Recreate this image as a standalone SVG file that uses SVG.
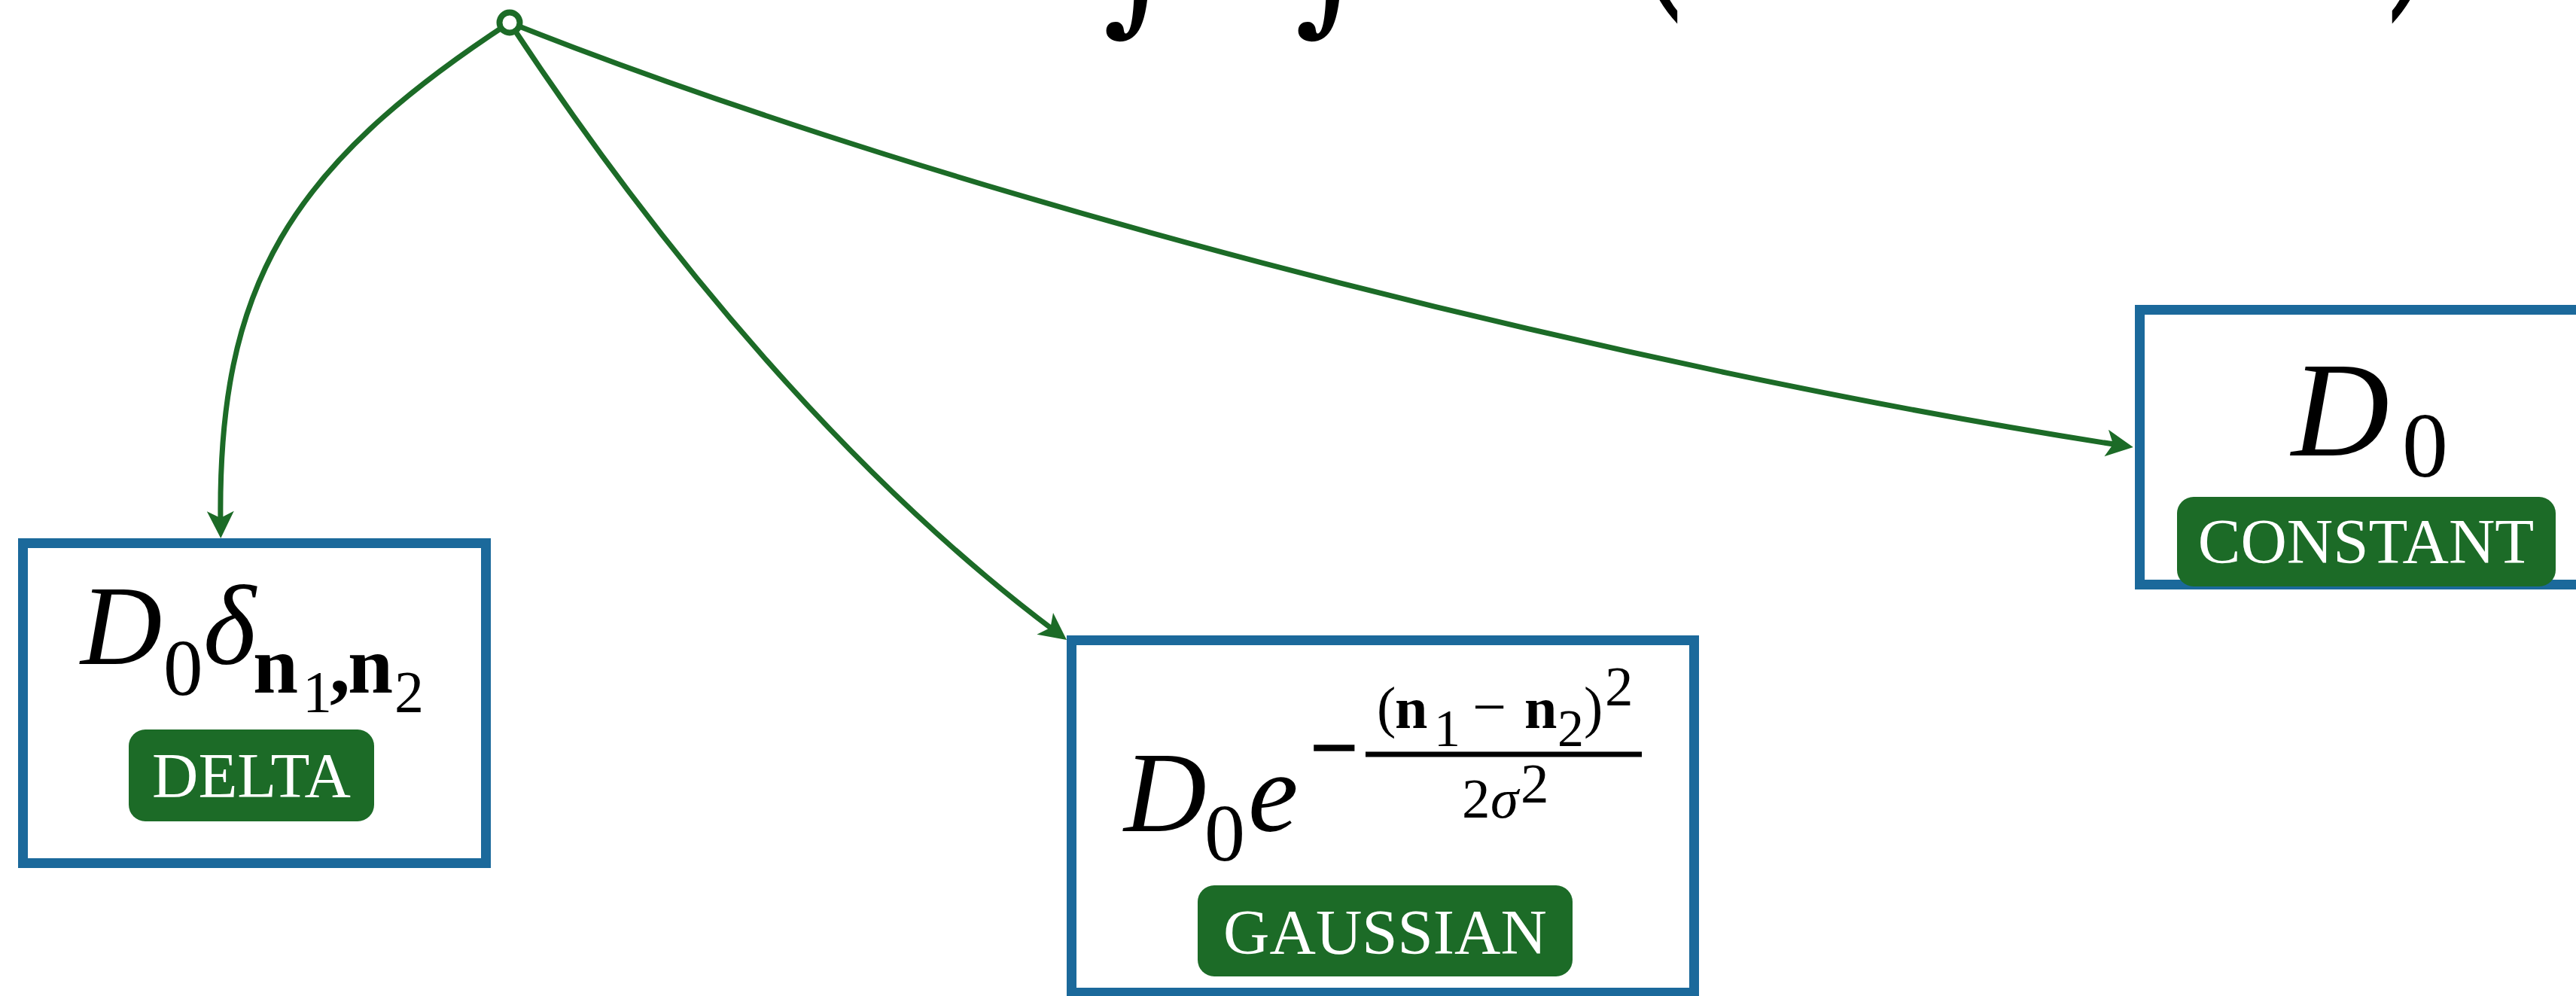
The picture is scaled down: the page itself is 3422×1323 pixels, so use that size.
<svg xmlns="http://www.w3.org/2000/svg" width="3422" height="1323" viewBox="0 0 3422 1323">
<style>
.box{fill:#ffffff;stroke:#1b699b;stroke-width:13}
.badge{fill:#1c6b27}
.badgetxt{font-family:"Liberation Serif",serif;font-size:85px;fill:#ffffff;text-anchor:middle}
.m{font-family:"Liberation Serif",serif;fill:#000000}
.it{font-style:italic}
.bf{font-weight:bold}
.conn{fill:none;stroke:#1c6b27;stroke-width:7}
.top{font-family:"DejaVu Serif",serif;fill:#000000}
</style>
<defs>
<marker id="arr" markerUnits="userSpaceOnUse" viewBox="-40 -20 42 40" refX="-20" refY="0" markerWidth="42" markerHeight="40" orient="auto">
<path d="M0,0 L-36,-18 L-27,0 L-36,18 Z" fill="#1c6b27"/>
</marker>
</defs>
<rect width="3422" height="1323" fill="#ffffff"/>
<g id="formula-top">
<text class="top" font-size="200" x="1465" y="19">∫</text>
<text class="top" font-size="200" x="1720" y="19">∫</text>
<text class="m" font-size="420" x="0" y="-58" transform="translate(2165,0) scale(0.5,1)">(</text>
<text class="m" font-size="420" x="0" y="-58" transform="translate(3171,0) scale(0.5,1)">)</text>
</g>
<g id="connectors">
<path class="conn" d="M677,30 C383,222 289,380 293,695" marker-end="url(#arr)"/>
<path class="conn" d="M677,30 C886,347 1137,640 1401,838" marker-end="url(#arr)"/>
<path class="conn" d="M677,30 C1282,270 2172,492 2814,591" marker-end="url(#arr)"/>
</g>
<g id="root">
<circle cx="677" cy="30" r="13.5" fill="#ffffff" stroke="#1c6b27" stroke-width="8"/>
</g>
<g id="delta">
<rect class="box" x="30.5" y="721.5" width="615" height="425"/>
<text class="m" y="882"><tspan class="it" x="107" font-size="150">D</tspan><tspan x="217" y="923" font-size="105">0</tspan><tspan class="it" x="270" y="882" font-size="150">δ</tspan><tspan class="bf" x="336" y="920" font-size="108">n</tspan><tspan x="402" y="945" font-size="78">1</tspan><tspan class="bf" x="438" y="920" font-size="108">,</tspan><tspan class="bf" x="462" y="920" font-size="108">n</tspan><tspan x="524" y="945" font-size="78">2</tspan></text>
<rect class="badge" x="171" y="969" width="326" height="122" rx="22"/>
<text class="badgetxt" x="334" y="1059">DELTA</text>
</g>
<g id="gaussian">
<rect class="box" x="1423.5" y="850.5" width="827" height="468"/>
<text class="m" y="1104"><tspan class="it" x="1493" font-size="152">D</tspan><tspan x="1600" y="1143" font-size="108">0</tspan><tspan class="it" x="1658" y="1104" font-size="150">e</tspan></text>
<text class="m" x="1772" y="1030" font-size="110" text-anchor="middle" stroke="#000" stroke-width="3">−</text>
<line x1="1814" y1="1002" x2="2181" y2="1002" stroke="#000" stroke-width="7"/>
<text class="m" y="965"><tspan x="1829" font-size="76">(</tspan><tspan class="bf" x="1853" y="967" font-size="78">n</tspan><tspan x="1905" y="991" font-size="70">1</tspan><tspan x="1956" y="966" font-size="80">−</tspan><tspan class="bf" x="2025" y="967" font-size="78">n</tspan><tspan x="2069" y="991" font-size="70">2</tspan><tspan x="2104" y="965" font-size="76">)</tspan><tspan x="2132" y="937" font-size="75">2</tspan></text>
<text class="m" y="1086"><tspan x="1942" font-size="75">2</tspan><tspan class="it" x="1980" font-size="75">σ</tspan><tspan x="2020" y="1066" font-size="75">2</tspan></text>
<rect class="badge" x="1591" y="1176" width="498" height="121" rx="22"/>
<text class="badgetxt" x="1840" y="1267">GAUSSIAN</text>
</g>
<g id="constant">
<rect class="box" x="2842.5" y="411.5" width="601" height="365"/>
<text class="m" y="605"><tspan class="it" x="3044" font-size="180">D</tspan><tspan x="3191" y="633" font-size="122">0</tspan></text>
<rect class="badge" x="2892" y="660" width="503" height="119" rx="22"/>
<text class="badgetxt" x="3143" y="748">CONSTANT</text>
</g>
</svg>
